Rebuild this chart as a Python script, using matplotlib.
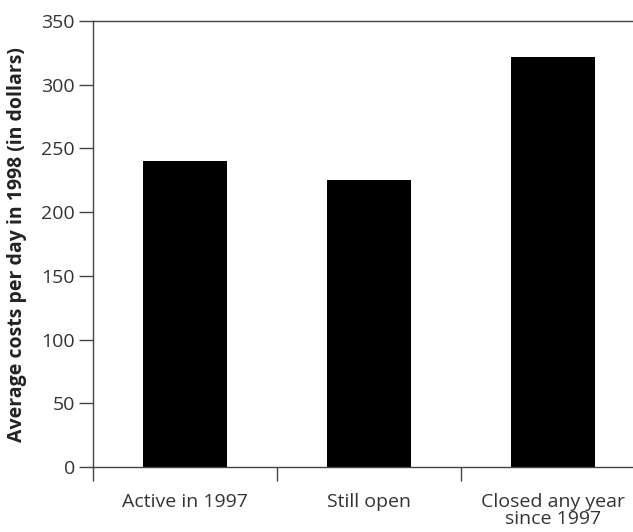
import numpy as np
import matplotlib.pyplot as plt

categories = ['Active in 1997', 'Still open', 'Closed any year\nsince 1997']
costs = [240, 225, 322]

plt.rcParams['font.family'] = ['Open Sans', 'DejaVu Sans']

fig = plt.figure(figsize=(6.33, 5.32), dpi=100)
ax = fig.add_axes([93/633, 1 - 467/532, 552/633, 446/532])

x = np.arange(len(categories))
ax.bar(x, costs, width=0.46, color='black')

ax.set_xlim(-0.5, 2.5)
ax.set_ylim(0, 350)
ax.set_yticks(np.arange(0, 351, 50))
ax.set_xticks(x)
ax.set_xticklabels(categories, fontsize=14, color='#333333', linespacing=0.92)
ax.tick_params(axis='x', length=0, pad=19)
ax.set_xticks(np.arange(-0.5, 2.6, 1), minor=True)
ax.tick_params(axis='x', which='minor', length=10, width=1, color='#444444')
ax.tick_params(axis='y', length=10, width=1, color='#444444', labelsize=14,
               labelcolor='#333333', pad=3)

for side in ['left', 'bottom', 'top']:
    ax.spines[side].set_color('#444444')
    ax.spines[side].set_linewidth(1)
ax.spines['right'].set_visible(False)

fig.text(17/633, 1 - 245/532, 'Average costs per day in 1998 (in dollars)',
         rotation=90, ha='center', va='center', fontsize=14,
         fontweight='bold', color='#222222')

fig.savefig('out.png', dpi=100)
